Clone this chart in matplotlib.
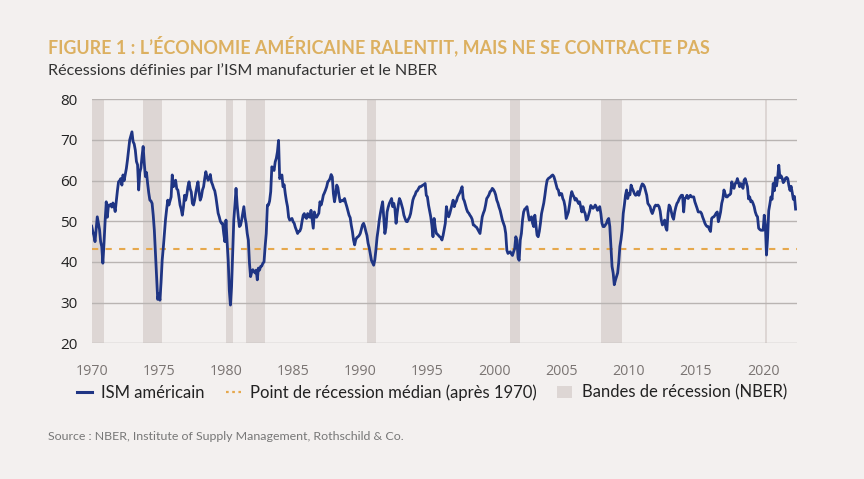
import numpy as np
import matplotlib
matplotlib.use("Agg")
import matplotlib.pyplot as plt
from matplotlib.lines import Line2D
from matplotlib.patches import Patch

# ---------------- data ----------------
start_year = 1970  # first month: January 1970, monthly values
ism_values = [
    # 1970
    48.8, 47.5, 46.5, 45.0, 48.0, 51.1, 49.5, 48.0, 45.0, 43.8, 39.7, 44.5,
    # 1971
    50.0, 54.8, 51.0, 54.0, 53.8, 54.2, 53.5, 54.5, 53.8, 52.4, 55.0, 57.5,
    # 1972
    59.7, 60.0, 60.5, 58.9, 61.4, 60.0, 61.5, 63.0, 65.1, 67.5, 70.0, 71.0,
    # 1973
    72.0, 69.6, 69.0, 67.5, 64.7, 63.9, 57.7, 62.0, 63.1, 66.0, 68.4, 64.3,
    # 1974
    61.0, 62.0, 59.3, 57.0, 55.2, 55.0, 54.4, 51.5, 47.8, 42.1, 36.0, 30.8,
    # 1975
    32.2, 30.6, 35.0, 40.4, 43.5, 47.0, 50.5, 53.0, 55.2, 54.0, 55.0, 56.0,
    # 1976
    61.4, 58.5, 59.5, 60.1, 58.0, 57.7, 56.0, 54.0, 53.0, 51.5, 53.5, 56.4,
    # 1977
    55.2, 56.5, 58.5, 59.7, 58.0, 57.2, 54.4, 54.0, 55.2, 57.0, 58.5, 59.7,
    # 1978
    57.0, 55.2, 56.0, 57.7, 58.5, 60.5, 62.2, 61.0, 60.1, 60.5, 61.5, 59.7,
    # 1979
    59.0, 58.1, 57.5, 56.0, 54.0, 52.0, 51.1, 50.0, 49.5, 49.5, 47.0, 45.0,
    # 1980
    50.3, 45.0, 40.4, 33.0, 29.4, 33.9, 42.0, 50.3, 54.0, 58.1, 54.0, 51.1,
    # 1981
    48.7, 49.0, 50.3, 52.0, 53.6, 51.0, 49.5, 47.0, 45.4, 39.7, 36.4, 37.5,
    # 1982
    38.1, 37.7, 37.3, 38.0, 35.6, 38.5, 38.0, 38.9, 39.0, 39.7, 40.0, 43.8,
    # 1983
    47.0, 54.0, 54.0, 55.0, 57.3, 63.4, 63.0, 62.5, 64.6, 65.5, 67.1, 69.9,
    # 1984
    60.5, 61.0, 61.4, 58.5, 59.0, 56.8, 55.0, 53.6, 51.0, 50.3, 50.5, 50.7,
    # 1985
    49.9, 49.5, 48.5, 47.8, 47.0, 47.5, 47.6, 48.3, 50.0, 51.5, 51.9, 51.0,
    # 1986
    50.7, 51.9, 51.1, 51.0, 52.7, 50.5, 48.3, 52.3, 51.1, 51.0, 51.5, 52.0,
    # 1987
    54.8, 54.0, 55.0, 56.4, 57.0, 57.7, 58.5, 59.7, 60.0, 60.5, 61.5, 60.9,
    # 1988
    56.8, 54.8, 56.5, 58.9, 58.3, 56.4, 54.8, 55.0, 55.2, 55.0, 55.6, 54.5,
    # 1989
    53.6, 52.5, 51.5, 50.9, 49.0, 47.5, 45.4, 44.2, 45.5, 46.0, 46.2, 46.5,
    # 1990
    47.0, 48.0, 49.1, 49.5, 48.7, 47.5, 46.5, 44.6, 43.5, 42.0, 40.4, 39.8,
    # 1991
    39.2, 40.5, 43.0, 46.0, 48.0, 50.3, 52.0, 53.5, 54.8, 51.0, 47.0, 48.5,
    # 1992
    52.3, 53.5, 54.4, 55.0, 55.6, 53.6, 54.4, 53.0, 49.5, 52.0, 54.0, 55.6,
    # 1993
    55.0, 54.0, 53.0, 51.5, 50.7, 50.0, 49.9, 50.5, 51.0, 51.9, 53.5, 55.2,
    # 1994
    56.0, 56.5, 57.3, 57.5, 58.0, 58.5, 58.5, 58.7, 58.9, 59.0, 59.3, 56.4,
    # 1995
    56.0, 54.0, 52.5, 51.1, 49.0, 46.2, 50.7, 48.5, 47.0, 46.8, 46.5, 46.2,
    # 1996
    46.0, 45.4, 46.5, 48.0, 49.5, 53.6, 52.0, 51.1, 51.9, 53.0, 54.0, 55.2,
    # 1997
    53.6, 54.5, 55.0, 56.0, 56.5, 57.0, 57.7, 58.5, 55.6, 55.0, 54.0, 53.0,
    # 1998
    52.3, 52.0, 51.5, 51.1, 50.5, 49.1, 49.0, 48.7, 48.5, 48.0, 47.5, 47.0,
    # 1999
    49.0, 51.1, 52.0, 52.7, 54.0, 55.6, 56.0, 56.5, 57.3, 57.5, 58.1, 57.8,
    # 2000
    57.3, 56.5, 55.2, 54.5, 53.5, 52.7, 51.5, 50.3, 49.5, 48.7, 47.0, 42.9,
    # 2001
    42.1, 42.3, 42.5, 42.0, 41.6, 42.5, 43.3, 46.2, 45.4, 41.0, 40.4, 45.4,
    # 2002
    47.0, 50.3, 52.3, 53.0, 53.2, 53.6, 52.0, 50.3, 50.5, 51.1, 49.5, 48.7,
    # 2003
    51.5, 49.0, 46.6, 46.2, 47.5, 49.5, 51.9, 53.2, 54.5, 56.4, 58.5, 60.1,
    # 2004
    60.5, 60.7, 60.9, 61.2, 61.4, 61.0, 60.1, 59.0, 58.0, 57.7, 56.4, 56.8,
    # 2005
    56.8, 55.6, 55.0, 53.6, 50.7, 51.5, 52.3, 54.0, 56.0, 57.3, 56.5, 56.0,
    # 2006
    55.2, 55.6, 55.0, 54.4, 54.8, 53.5, 52.3, 53.6, 52.5, 51.9, 50.3, 50.5,
    # 2007
    51.5, 52.5, 53.9, 53.5, 53.2, 53.5, 54.0, 53.5, 52.7, 53.0, 53.6, 51.9,
    # 2008
    49.5, 48.7, 48.7, 49.1, 49.5, 50.3, 50.7, 48.7, 44.0, 38.9, 37.3, 34.4,
    # 2009
    35.5, 36.4, 37.3, 40.0, 43.8, 45.5, 47.8, 51.9, 54.0, 56.4, 57.7, 55.6,
    # 2010
    56.8, 56.5, 58.9, 58.1, 57.5, 56.8, 56.4, 56.5, 57.3, 56.4, 57.5, 58.5,
    # 2011
    59.2, 59.0, 58.5, 57.5, 56.4, 54.4, 54.0, 53.6, 52.5, 51.9, 52.7, 53.6,
    # 2012
    54.0, 53.8, 54.0, 53.6, 52.5, 50.3, 49.1, 49.5, 50.3, 48.5, 47.8, 51.9,
    # 2013
    54.0, 53.5, 52.3, 51.1, 50.5, 52.3, 53.5, 54.4, 54.8, 55.5, 56.0, 56.4,
    # 2014
    56.4, 52.3, 55.6, 55.8, 56.4, 55.6, 56.0, 56.4, 56.0, 56.0, 56.0, 54.8,
    # 2015
    54.0, 53.2, 52.3, 52.3, 52.3, 51.9, 51.0, 50.3, 49.5, 49.0, 48.7, 48.7,
    # 2016
    48.0, 47.5, 50.7, 51.0, 51.1, 51.5, 52.0, 52.3, 49.9, 51.0, 52.3, 54.4,
    # 2017
    55.5, 57.7, 56.8, 56.0, 56.0, 56.4, 56.5, 56.8, 59.7, 58.5, 58.1, 59.3,
    # 2018
    59.5, 60.5, 59.5, 58.5, 59.3, 58.8, 58.1, 60.1, 60.5, 59.5, 58.5, 55.5,
    # 2019
    56.0, 54.8, 55.0, 54.4, 53.6, 52.3, 51.5, 51.1, 48.3, 48.0, 47.8, 47.8,
    # 2020
    47.8, 51.5, 49.1, 41.7, 46.0, 52.6, 54.2, 56.0, 55.4, 59.3, 57.5, 60.7,
    # 2021
    58.7, 60.8, 63.8, 60.7, 61.2, 60.6, 59.5, 59.9, 60.6, 60.8, 60.5, 58.8,
    # 2022
    57.6, 58.6, 57.1, 55.4, 56.1, 53.0,
]

# NBER recession bands (start, end) in fractional years
recession_starts = [1970.0, 1973.84, 1980.0, 1981.5, 1990.52, 2001.17, 2007.9, 2020.13]
recession_ends   = [1970.9, 1975.21, 1980.55, 1982.9, 1991.2, 2001.9, 2009.46, 2020.3]

median_recession_level = 43.3

x_ticks = [1970, 1975, 1980, 1985, 1990, 1995, 2000, 2005, 2010, 2015, 2020]
y_ticks = [20, 30, 40, 50, 60, 70, 80]

title_text = "FIGURE 1 : L\u2019\u00c9CONOMIE AM\u00c9RICAINE RALENTIT, MAIS NE SE CONTRACTE PAS"
subtitle_text = "R\u00e9cessions d\u00e9finies par l\u2019ISM manufacturier et le NBER"
source_text = "Source : NBER, Institute of Supply Management, Rothschild & Co."
legend_labels = ["ISM am\u00e9ricain", "Point de r\u00e9cession m\u00e9dian (apr\u00e8s 1970)",
                 "Bandes de r\u00e9cession (NBER)"]

# ---------------- style ----------------
bg = "#f3f0ef"
navy = "#1f3584"
gold = "#e6a84c"
band_col = "#ddd6d4"
grid_col = "#b9b4b2"
title_col = "#dcb060"

plt.rcParams['font.family'] = ['Lato', 'DejaVu Sans']

fig = plt.figure(figsize=(8.64, 4.79), dpi=100, facecolor=bg)
ax = fig.add_axes([0.1061, 0.2833, 0.8160, 0.5094])
ax.set_facecolor(bg)

months = start_year + np.arange(len(ism_values)) / 12.0

for s, e in zip(recession_starts, recession_ends):
    ax.axvspan(s, e, color=band_col, lw=0, zorder=1)

for yv in y_ticks:
    ax.axhline(yv, color=grid_col, lw=1.0, zorder=2)

ax.axhline(median_recession_level, color=gold, lw=1.5, ls=(0, (3, 3.5)), zorder=3)
ax.plot(months, ism_values, color=navy, lw=2.0, zorder=4, solid_joinstyle='round')

ax.set_xlim(1970, 2022.5)
ax.set_ylim(20, 80)
ax.set_xticks(x_ticks)
ax.set_xticklabels([str(t) for t in x_ticks], color="#7a7472", fontsize=10.3, family=['Open Sans', 'DejaVu Sans'])
ax.set_yticks(y_ticks)
ax.set_yticklabels([str(t) for t in y_ticks], color="#222222", fontsize=11, family=['Open Sans', 'DejaVu Sans'])
ax.tick_params(axis='both', length=0)
ax.tick_params(axis='x', pad=15)
ax.tick_params(axis='y', pad=10)
for sp in ax.spines.values():
    sp.set_visible(False)

fig.text(0.0556, 0.905, title_text, color=title_col, fontsize=12.85, fontweight='bold',
         ha='left', va='center')
fig.text(0.0556, 0.853, subtitle_text, color="#333333", fontsize=11.65,
         ha='left', va='center')
fig.text(0.0556, 0.089, source_text, color="#777777", fontsize=8.9,
         ha='left', va='center')

handles = [Line2D([0], [0], color=navy, lw=2.2),
           Line2D([0], [0], color=gold, lw=1.6, ls=(0, (1.2, 1.6))),
           Patch(facecolor=band_col, edgecolor='none')]
leg = fig.legend(handles, legend_labels, loc='center', bbox_to_anchor=(0.5, 0.181),
                 ncol=3, frameon=False, fontsize=12.0, handlelength=0.9, handletextpad=0.55,
                 columnspacing=1.25, labelcolor="#222222")

fig.savefig("out.png", dpi=100, facecolor=bg)
